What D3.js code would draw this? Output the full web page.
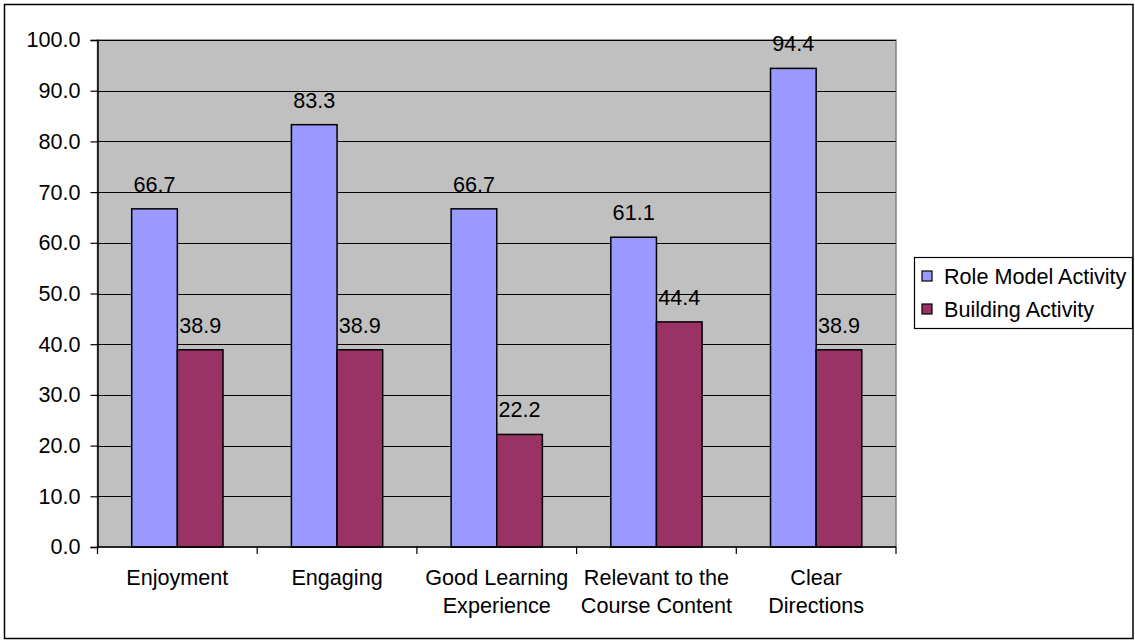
<!DOCTYPE html>
<html>
<head>
<meta charset="utf-8">
<script src="https://cdn.jsdelivr.net/npm/d3@7"></script>
<style>
  body { margin: 0; background: #fff; }
  text { font-family: "Liberation Sans", Arial, sans-serif; }
</style>
</head>
<body>
<svg id="chart" width="1135" height="643"></svg>
<script>
var categories = [["Enjoyment"], ["Engaging"], ["Good Learning", "Experience"],
                  ["Relevant to the", "Course Content"], ["Clear", "Directions"]];
var series = ["Role Model Activity", "Building Activity"];
var roleModel = [66.7, 83.3, 66.7, 61.1, 94.4];
var building = [38.9, 38.9, 22.2, 44.4, 38.9];
var yTicks = [0, 10, 20, 30, 40, 50, 60, 70, 80, 90, 100];
var colors = ["#9999ff", "#993366"];

function drawChart() {
  var svg = d3.select("#chart"),
      left = 97.5, right = 896, top = 40, bottom = 547,
      fs = 21.6;

  // outer frame
  svg.append("rect")
      .attr("x", 4.5).attr("y", 4.5)
      .attr("width", 1128.5).attr("height", 634)
      .attr("fill", "#fff").attr("stroke", "#000").attr("stroke-width", 1.5);

  var keys = categories.map(function(c) { return c.join(" "); });
  var data = keys.map(function(k, i) { return {key: k, lines: categories[i], values: [roleModel[i], building[i]]}; });

  var x0 = d3.scaleBand().domain(keys).range([left, right]).padding(0);
  var barW = x0.bandwidth() / 3.5;
  var x1 = d3.scaleBand().domain([0, 1]).range([0, barW * 2]);
  var y = d3.scaleLinear().domain([0, 100]).range([bottom, top]);

  // plot area
  svg.append("rect")
      .attr("x", left).attr("y", top)
      .attr("width", right - left).attr("height", bottom - top)
      .attr("fill", "#c0c0c0").attr("stroke", "#808080").attr("stroke-width", 1.5);

  // gridlines
  svg.append("g").selectAll("line")
    .data(yTicks.slice(1))
    .enter().append("line")
      .attr("x1", left).attr("x2", right)
      .attr("y1", function(d) { return Math.round(y(d)) + 0.5; })
      .attr("y2", function(d) { return Math.round(y(d)) + 0.5; })
      .attr("stroke", "#000").attr("stroke-width", 1);

  // bars
  var groups = svg.append("g").selectAll("g")
    .data(data)
    .enter().append("g")
      .attr("transform", function(d) { return "translate(" + (x0(d.key) + (x0.bandwidth() - barW * 2) / 2) + ",0)"; });

  groups.selectAll("rect")
    .data(function(d) { return d.values; })
    .enter().append("rect")
      .attr("x", function(d, i) { return x1(i); })
      .attr("y", function(d) { return y(d); })
      .attr("width", x1.bandwidth())
      .attr("height", function(d) { return y(0) - y(d); })
      .attr("fill", function(d, i) { return colors[i]; })
      .attr("stroke", "#000").attr("stroke-width", 1.5);

  groups.selectAll("text")
    .data(function(d) { return d.values; })
    .enter().append("text")
      .attr("x", function(d, i) { return x1(i) + x1.bandwidth() / 2; })
      .attr("y", function(d) { return y(d) - 17; })
      .attr("text-anchor", "middle")
      .attr("font-size", fs)
      .attr("fill", "#000")
      .text(function(d) { return d3.format(".1f")(d); });

  // y axis
  var yAxis = svg.append("g")
      .attr("transform", "translate(" + left + ",0)")
      .call(d3.axisLeft(y).tickValues(yTicks).tickFormat(d3.format(".1f")).tickSize(7).tickPadding(10));
  yAxis.select(".domain").attr("stroke", "#000").attr("stroke-width", 1.5);
  yAxis.selectAll(".tick line").attr("stroke", "#000").attr("stroke-width", 1.2);
  yAxis.selectAll("text").attr("font-size", fs).attr("fill", "#000")
      .attr("font-family", "Liberation Sans, Arial, sans-serif");

  // x axis
  var xg = svg.append("g");
  xg.append("line")
      .attr("x1", left).attr("x2", right)
      .attr("y1", bottom).attr("y2", bottom)
      .attr("stroke", "#000").attr("stroke-width", 1.5);
  xg.selectAll(".xtick")
    .data(keys.concat(["end"]))
    .enter().append("line")
      .attr("class", "xtick")
      .attr("x1", function(d) { return d === "end" ? right : x0(d); })
      .attr("x2", function(d) { return d === "end" ? right : x0(d); })
      .attr("y1", bottom).attr("y2", bottom + 7)
      .attr("stroke", "#000").attr("stroke-width", 1.2);

  var labels = xg.selectAll(".xlabel")
    .data(data)
    .enter().append("text")
      .attr("class", "xlabel")
      .attr("text-anchor", "middle")
      .attr("font-size", fs)
      .attr("fill", "#000");
  labels.selectAll("tspan")
    .data(function(d) { return d.lines.map(function(l) { return {line: l, key: d.key}; }); })
    .enter().append("tspan")
      .attr("x", function(d) { return x0(d.key) + x0.bandwidth() / 2; })
      .attr("y", function(d, i) { return 585 + i * 28; })
      .text(function(d) { return d.line; });

  // legend
  var legend = svg.append("g").attr("transform", "translate(914,257)");
  legend.append("rect")
      .attr("x", 0.5).attr("y", 0.5)
      .attr("width", 218).attr("height", 71)
      .attr("fill", "#fff").attr("stroke", "#000").attr("stroke-width", 1.2);
  var item = legend.selectAll(".item")
    .data(series)
    .enter().append("g")
      .attr("class", "item")
      .attr("transform", function(d, i) { return "translate(0," + (19 + i * 33) + ")"; });
  item.append("rect")
      .attr("x", 8).attr("y", -5)
      .attr("width", 10).attr("height", 10)
      .attr("fill", function(d, i) { return colors[i]; })
      .attr("stroke", "#000").attr("stroke-width", 1.2);
  item.append("text")
      .attr("x", 30).attr("y", 0)
      .attr("dy", "0.35em")
      .attr("font-size", fs)
      .attr("fill", "#000")
      .text(function(d) { return d; });
}

drawChart();
</script>
</body>
</html>
